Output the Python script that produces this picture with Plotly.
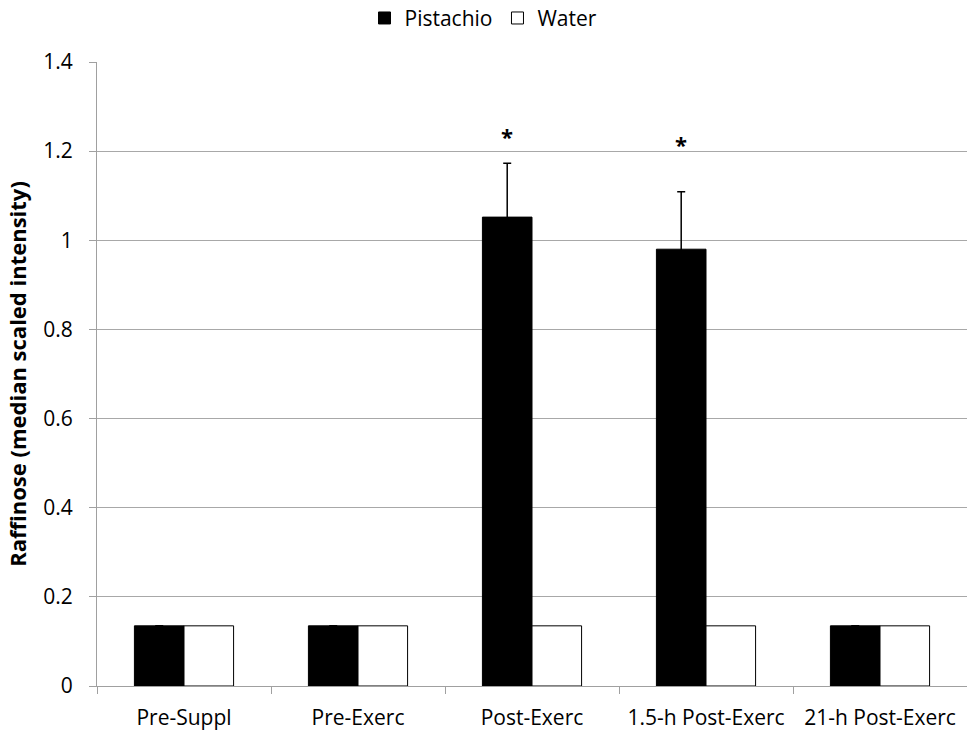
import plotly.graph_objects as go

categories = ["Pre-Suppl", "Pre-Exerc", "Post-Exerc", "1.5-h Post-Exerc", "21-h Post-Exerc"]
pistachio = [0.135, 0.135, 1.052, 0.980, 0.135]
pistachio_err = [None, None, 0.121, 0.129, None]
water = [0.135, 0.135, 0.135, 0.135, 0.135]
sig_labels = ["", "", "*", "*", ""]
sig_y = [None, None, 1.234, 1.216, None]
y_ticks = [0, 0.2, 0.4, 0.6, 0.8, 1, 1.2, 1.4]
y_tick_text = ["0", "0.2", "0.4", "0.6", "0.8", "1", "1.2", "1.4"]

FONT = "Open Sans"

fig = go.Figure()
fig.add_trace(go.Bar(
    name="Pistachio", x=categories, y=pistachio,
    marker=dict(color="black", line=dict(color="black", width=1)),
    error_y=dict(type="data", array=pistachio_err, visible=True,
                 color="black", thickness=1.5, width=4),
))
fig.add_trace(go.Bar(
    name="Water", x=categories, y=water,
    marker=dict(color="white", line=dict(color="black", width=1)),
))

for c, s, sy in zip(categories, sig_labels, sig_y):
    if s:
        fig.add_annotation(x=c, y=sy, text="<b>*</b>", showarrow=False,
                           xshift=-25, yanchor="middle", yshift=0,
                           font=dict(family=FONT, size=22, color="black"))

fig.update_layout(
    width=967, height=733,
    paper_bgcolor="white", plot_bgcolor="white",
    margin=dict(l=97, r=0, t=62, b=47, autoexpand=False),
    barmode="group", bargap=0.43, bargroupgap=0,
    font=dict(family=FONT, size=20, color="black"),
    showlegend=True,
    legend=dict(orientation="h", x=0.5, xanchor="center", xref="container",
                y=0.975, yanchor="middle", yref="container",
                font=dict(family=FONT, size=21), traceorder="normal",
                itemwidth=30),
    xaxis=dict(
        type="category", showline=True, linecolor="#a0a0a0", linewidth=1,
        ticks="outside", tickson="boundaries", ticklen=7, tickcolor="#a0a0a0",
        showgrid=False, tickfont=dict(family=FONT, size=21),
        automargin=False, ticklabelstandoff=13,
    ),
    yaxis=dict(
        range=[0, 1.4], tickvals=y_ticks, ticktext=y_tick_text,
        showline=True, linecolor="#a0a0a0", linewidth=1,
        ticks="outside", ticklen=7, tickcolor="#a0a0a0",
        showgrid=True, gridcolor="#a8a8a8", gridwidth=1, zeroline=False,
        tickfont=dict(family=FONT, size=21), automargin=False,
        ticklabelstandoff=12,
        title=dict(text="<b>Raffinose (median scaled intensity)</b>",
                   font=dict(family=FONT, size=22), standoff=10),
    ),
)

fig.write_html(
    "out.html",
    config={"displayModeBar": False},
    post_script="document.body.style.margin='0px';document.body.style.overflow='hidden';",
)
